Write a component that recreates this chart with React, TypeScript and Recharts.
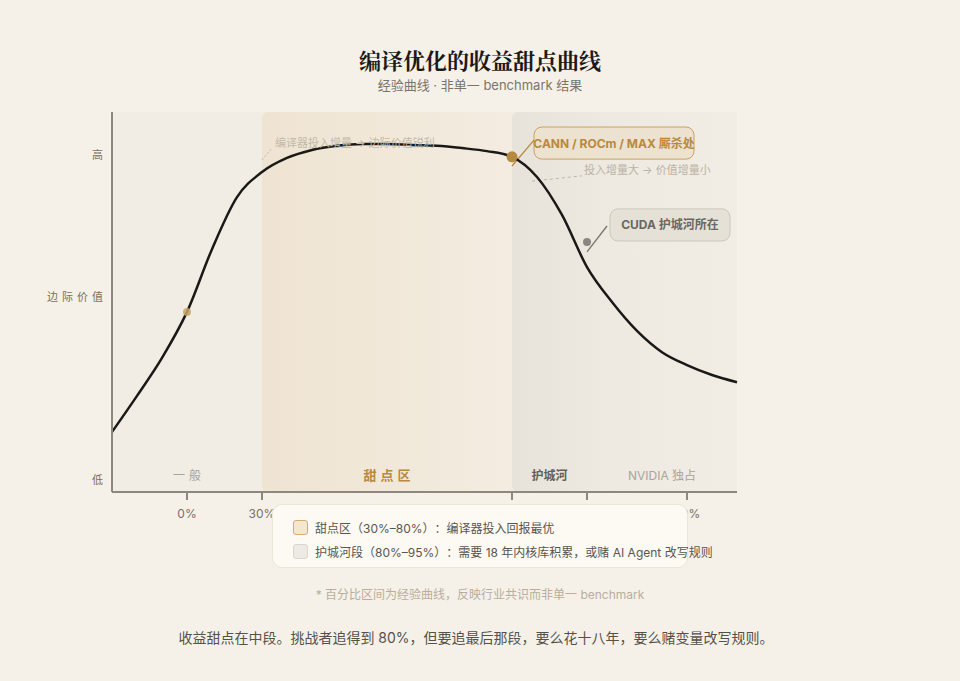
import React from 'react';
import {
  ComposedChart,
  Line,
  XAxis,
  YAxis,
  ReferenceArea,
  ReferenceDot,
  ReferenceLine,
} from 'recharts';

// ---- data ----
const investment = [0, 5, 10, 15, 20, 25, 30, 35, 40, 45, 50, 55, 60, 65, 70, 75, 80, 85, 90, 95, 100, 105, 110, 115, 120, 125];
const marginalValue = [15.8, 25.3, 35.3, 47.4, 63.9, 77.6, 84.2, 87.9, 90.0, 91.1, 91.6, 91.6, 91.3, 91.1, 90.5, 89.7, 88.2, 82.9, 72.9, 59.2, 50.0, 42.4, 36.8, 33.4, 30.8, 28.9];

const xTickValues = [15, 30, 80, 95, 115];
const xTickLabels = ['0%', '30%', '80%', '95%', '99%'];
const yTickValues = [3.2, 51.3, 88.7];
const yTickLabels = ['低', '边际价值', '高'];

const zoneBounds = [0, 30, 80, 95, 125];
const zoneNames = ['一般', '甜点区', '护城河', 'NVIDIA 独占'];

const legendItems = [
  '甜点区（30%–80%）：编译器投入回报最优',
  '护城河段（80%–95%）：需要 18 年内核库积累，或赌 AI Agent 改写规则',
];

const chartData = investment.map((x, i) => ({ x, v: marginalValue[i] }));

const FONT = "Inter, 'Noto Sans CJK SC', sans-serif";

const zoneLabelStyles = [
  { fill: '#a9a398', fontSize: 12, fontWeight: 400, letterSpacing: 4 },
  { fill: '#b8893f', fontSize: 13, fontWeight: 700, letterSpacing: 4 },
  { fill: '#666056', fontSize: 12, fontWeight: 700, letterSpacing: 0 },
  { fill: '#aaa49a', fontSize: 12, fontWeight: 400, letterSpacing: 0 },
];

const bottomLabel = (text: string, st: any) => (props: any) => {
  const vb = props.viewBox || {};
  return (
    <text
      x={vb.x + vb.width / 2 + st.letterSpacing / 2}
      y={vb.y + vb.height - 17}
      textAnchor="middle"
      dominantBaseline="central"
      fill={st.fill}
      fontSize={st.fontSize}
      fontWeight={st.fontWeight}
      letterSpacing={st.letterSpacing}
      style={{ fontFamily: FONT }}
    >
      {text}
    </text>
  );
};

const centerLabel = (text: string, fill: string) => (props: any) => {
  const vb = props.viewBox || {};
  return (
    <text
      x={vb.x + vb.width / 2}
      y={vb.y + vb.height / 2}
      textAnchor="middle"
      dominantBaseline="central"
      fill={fill}
      fontSize={12}
      fontWeight={700}
      style={{ fontFamily: FONT }}
    >
      {text}
    </text>
  );
};

const startLabel = (text: string, fill: string) => (props: any) => {
  const vb = props.viewBox || {};
  return (
    <text
      x={vb.x + (vb.width || 0) / 2}
      y={vb.y + (vb.height || 0) / 2}
      textAnchor="start"
      dominantBaseline="central"
      fill={fill}
      fontSize={11}
      style={{ fontFamily: FONT }}
    >
      {text}
    </text>
  );
};

const YTick = (props: any) => {
  const { x, y, payload } = props;
  const label = yTickLabels[yTickValues.indexOf(payload.value)] ?? '';
  const spaced = label.length > 1;
  return (
    <text
      x={x + (spaced ? 4 : 0)}
      y={y}
      textAnchor="end"
      dominantBaseline="central"
      fill="#7a6f62"
      fontSize={11}
      letterSpacing={spaced ? 4 : 0}
      style={{ fontFamily: FONT }}
    >
      {label}
    </text>
  );
};

export default function App() {
  return (
    <div
      style={{
        position: 'relative',
        width: 960,
        height: 681,
        background: '#f5f1e8',
        fontFamily: FONT,
        overflow: 'hidden',
      }}
    >
      <style>{`body{margin:0;background:#f5f1e8;} .lg{text-spacing-trim:space-all;}`}</style>
      <div
        style={{
          position: 'absolute',
          top: 44,
          left: 0,
          width: 960,
          textAlign: 'center',
          fontFamily: "'Noto Serif CJK SC', serif",
          fontWeight: 700,
          fontSize: 22,
          color: '#1c1a17',
          lineHeight: '32px',
        }}
      >
        编译优化的收益甜点曲线
      </div>
      <div
        style={{
          position: 'absolute',
          top: 76,
          left: 0,
          width: 960,
          textAlign: 'center',
          fontSize: 13,
          color: '#7a756c',
          lineHeight: '18px',
        }}
      >
        经验曲线 · 非单一 benchmark 结果
      </div>

      <div style={{ position: 'absolute', left: 0, top: 100 }}>
        <ComposedChart
          width={960}
          height={460}
          data={chartData}
          margin={{ top: 12, right: 223, bottom: 38, left: 52 }}
          style={{ fontFamily: FONT }}
        >
          <defs>
            <linearGradient id="sweetGrad" x1="0" y1="0" x2="1" y2="0">
              <stop offset="0%" stopColor="#efe4d2" />
              <stop offset="100%" stopColor="#f3ece0" />
            </linearGradient>
            <linearGradient id="moatGrad" x1="0" y1="0" x2="1" y2="0">
              <stop offset="0%" stopColor="#e7e3da" />
              <stop offset="45%" stopColor="#eeeae1" />
              <stop offset="100%" stopColor="#f1ede4" />
            </linearGradient>
          </defs>
          <XAxis
            type="number"
            dataKey="x"
            domain={[0, 125]}
            ticks={xTickValues}
            interval={0}
            tickFormatter={(v: number) => xTickLabels[xTickValues.indexOf(v)] ?? ''}
            axisLine={{ stroke: '#8d887d', strokeWidth: 2 }}
            tickLine={{ stroke: '#8d887d', strokeWidth: 2 }}
            tickSize={8}
            tickMargin={9}
            tick={{ fill: '#777068', fontSize: 12 }}
            height={30}
          />
          <YAxis
            type="number"
            domain={[0, 100]}
            ticks={yTickValues}
            interval={0}
            axisLine={{ stroke: '#8d887d', strokeWidth: 2 }}
            tickLine={false}
            tickSize={6}
            tickMargin={3}
            tick={<YTick />}
            width={60}
          />

          <ReferenceArea x1={0} x2={125} y1={0} y2={100} fill="#f1ede4" fillOpacity={1} stroke="none" />
          <ReferenceArea x1={zoneBounds[1]} x2={zoneBounds[2]} y1={0} y2={100} fill="url(#sweetGrad)" fillOpacity={1} stroke="none" radius={6} />
          <ReferenceArea x1={zoneBounds[2]} x2={zoneBounds[4]} y1={0} y2={100} fill="url(#moatGrad)" fillOpacity={1} stroke="none" radius={6} />

          {zoneNames.map((name, i) => (
            <ReferenceArea
              key={name}
              x1={zoneBounds[i]}
              x2={zoneBounds[i + 1]}
              y1={0}
              y2={100}
              fill="none"
              fillOpacity={0}
              stroke="none"
              label={{ content: bottomLabel(name, zoneLabelStyles[i]) }}
            />
          ))}

          {/* annotation text: sweet zone */}
          <ReferenceLine
            segment={[{ x: 30, y: 87.4 }, { x: 32, y: 90.5 }]}
            stroke="#bdb6a8"
            strokeDasharray="2 2"
            strokeWidth={1}
          />
          <ReferenceDot
            x={32.6}
            y={91.8}
            r={0.01}
            fill="none"
            stroke="none"
            label={{ content: startLabel('编译器投入增量 → 边际价值锐利', '#c2b9a8') }}
          />

          {/* CANN box */}
          <ReferenceArea
            x1={84.4}
            x2={116.4}
            y1={87.6}
            y2={96.05}
            fill="#ece2cf"
            fillOpacity={1}
            stroke="#c9a25c"
            strokeWidth={1}
            radius={8}
            label={{ content: centerLabel('CANN / ROCm / MAX 厮杀处', '#b8893f') }}
          />
          <ReferenceLine
            segment={[{ x: 80, y: 85.8 }, { x: 84.4, y: 92.6 }]}
            stroke="#b8893f"
            strokeWidth={1.3}
          />

          {/* diminishing returns text */}
          <ReferenceLine
            segment={[{ x: 84, y: 81.8 }, { x: 94, y: 83.2 }]}
            stroke="#bdb6a8"
            strokeDasharray="3 3"
            strokeWidth={1}
          />
          <ReferenceDot
            x={94.4}
            y={84.7}
            r={0.01}
            fill="none"
            stroke="none"
            label={{ content: startLabel('投入增量大 → 价值增量小', '#bbb3a5') }}
          />

          {/* CUDA box */}
          <ReferenceArea
            x1={99.6}
            x2={123.6}
            y1={66.05}
            y2={74.5}
            fill="#e6e1d7"
            fillOpacity={1}
            stroke="#cdc7bb"
            strokeWidth={1}
            radius={8}
            label={{ content: centerLabel('CUDA 护城河所在', '#6b6760') }}
          />
          <ReferenceLine
            segment={[{ x: 95, y: 63.2 }, { x: 99, y: 70 }]}
            stroke="#77736c"
            strokeWidth={1.3}
          />

          <Line
            type="monotone"
            dataKey="v"
            stroke="#1a1917"
            strokeWidth={2.5}
            dot={false}
            activeDot={false}
            isAnimationActive={false}
          />

          <ReferenceDot x={15} y={47.4} r={4} fill="#c9a56a" fillOpacity={0.85} stroke="none" />
          <ReferenceDot x={80} y={88.2} r={5.5} fill="#b5893f" stroke="none" />
          <ReferenceDot x={95} y={65.8} r={4} fill="#8a8782" stroke="none" />
        </ComposedChart>
      </div>

      <div
        className="lg"
        style={{
          position: 'absolute',
          left: 272,
          top: 504,
          width: 416,
          height: 64,
          boxSizing: 'border-box',
          background: '#fdfaf3',
          border: '1px solid #ebe5d7',
          borderRadius: 10,
          padding: '10px 0 0 20px',
          fontSize: 12,
          color: '#5a554d',
          whiteSpace: 'nowrap',
        }}
      >
        {legendItems.map((t, i) => (
          <div key={t} style={{ display: 'flex', alignItems: 'center', height: 24 }}>
            <span
              style={{
                display: 'inline-block',
                flex: '0 0 auto',
                width: 15,
                height: 15,
                borderRadius: 3,
                boxSizing: 'border-box',
                border: i === 0 ? '1.5px solid #cfae72' : '1.5px solid #d9d6cf',
                background: i === 0 ? '#f4e7cd' : '#eceae4',
                marginRight: 7,
              }}
            />
            <span>{t}</span>
          </div>
        ))}
      </div>

      <div
        style={{
          position: 'absolute',
          top: 587,
          left: 0,
          width: 960,
          textAlign: 'center',
          fontSize: 12,
          color: '#b9ae9c',
          lineHeight: '16px',
        }}
      >
        * 百分比区间为经验曲线，反映行业共识而非单一 benchmark
      </div>
      <div
        style={{
          position: 'absolute',
          top: 628,
          left: -4,
          width: 960,
          textAlign: 'center',
          fontSize: 14,
          color: '#55514a',
          lineHeight: '20px',
        }}
      >
        收益甜点在中段。挑战者追得到 80%，但要追最后那段，要么花十八年，要么赌变量改写规则。
      </div>
    </div>
  );
}
